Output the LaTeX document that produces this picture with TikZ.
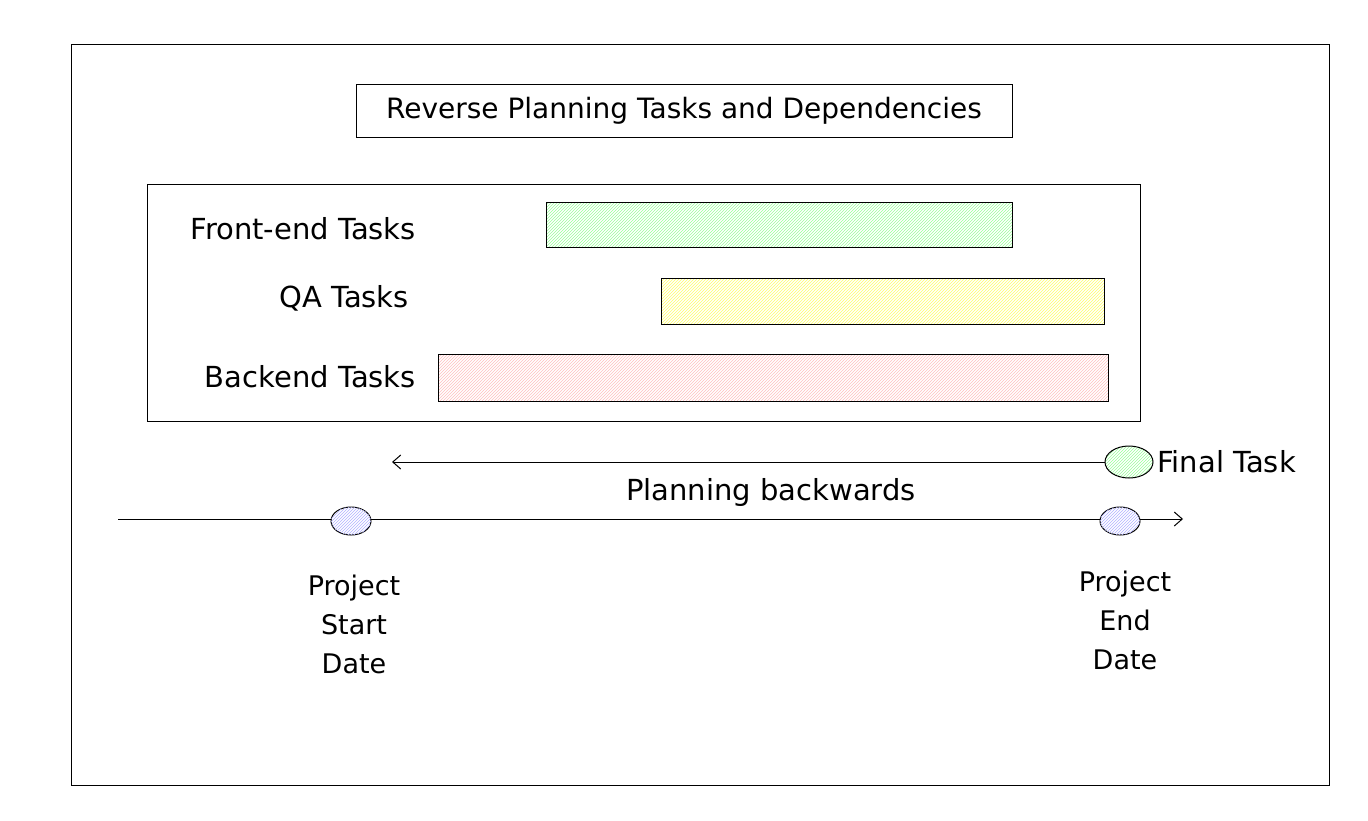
\documentclass[tikz,border=0pt]{standalone}
\usepackage{fontspec}
\setmainfont{DejaVu Sans}
\usetikzlibrary{patterns,arrows.meta}
\tikzset{
    lbl/.style={font=\fontsize{29}{34}\selectfont, inner sep=0pt},
    bar/.style={draw=black, line width=1pt}
}
\begin{document}
\begin{tikzpicture}[x=1pt, y=-1pt]
    \useasboundingbox (0,0) rectangle (1368,820);
    % frames
    \draw[line width=1pt] (71,44) rectangle (1329,785);
    \node[draw, line width=1pt, minimum width=656pt, minimum height=53pt, font=\fontsize{28}{34}\selectfont] (title) at (684,111) {Reverse Planning Tasks and Dependencies};
    \draw[line width=1pt] (147,184) rectangle (1140,421);

    % task bars
    \fill[pattern=north east lines, pattern color=green!40] (546,202) rectangle (1012,247);
    \draw[bar] (546,202) rectangle (1012,247);
    \fill[pattern=north east lines, pattern color=yellow!60] (661,278) rectangle (1104,324);
    \draw[bar] (661,278) rectangle (1104,324);
    \fill[pattern=north east lines, pattern color=red!25] (438,354) rectangle (1108,401);
    \draw[bar] (438,354) rectangle (1108,401);

    \node[lbl, anchor=east] (front) at (416,229) {Front-end Tasks};
    \node[lbl, anchor=east] (qa) at (409,298) {QA Tasks};
    \node[lbl, anchor=east] (back) at (416,377) {Backend Tasks};

    % planning arrow
    \draw[line width=1pt, pattern=north east lines, pattern color=green!40] (1129,462) ellipse (24pt and 16pt);
    \coordinate (final) at (1105,462);
    \coordinate (back end) at (392,462);
    \draw[line width=1pt, -{Straight Barb[length=8pt,width=14pt]}] (final) -- (back end);
    \node[lbl, anchor=west] (ftask) at (1157,462) {Final Task};
    \node[lbl] (plan) at (771,492) {Planning backwards};

    % timeline
    \coordinate (t0) at (118,519);
    \coordinate (t1) at (1183,519);
    \draw[line width=1pt, -{Straight Barb[length=8pt,width=14pt]}] (t0) -- (t1);
    \draw[line width=1pt, fill=white] (351,521) ellipse (20pt and 14pt);
    \fill[pattern=north east lines, pattern color=blue!30] (351,521) ellipse (20pt and 14pt);
    \draw[line width=1pt, fill=white] (1120,521) ellipse (20pt and 14pt);
    \fill[pattern=north east lines, pattern color=blue!30] (1120,521) ellipse (20pt and 14pt);

    \node[lbl, align=center, font=\fontsize{27}{39}\selectfont] (start) at (354,624) {Project\\Start\\Date};
    \node[lbl, align=center, font=\fontsize{27}{39}\selectfont] (end) at (1125,620) {Project\\End\\Date};
\end{tikzpicture}
\end{document}
